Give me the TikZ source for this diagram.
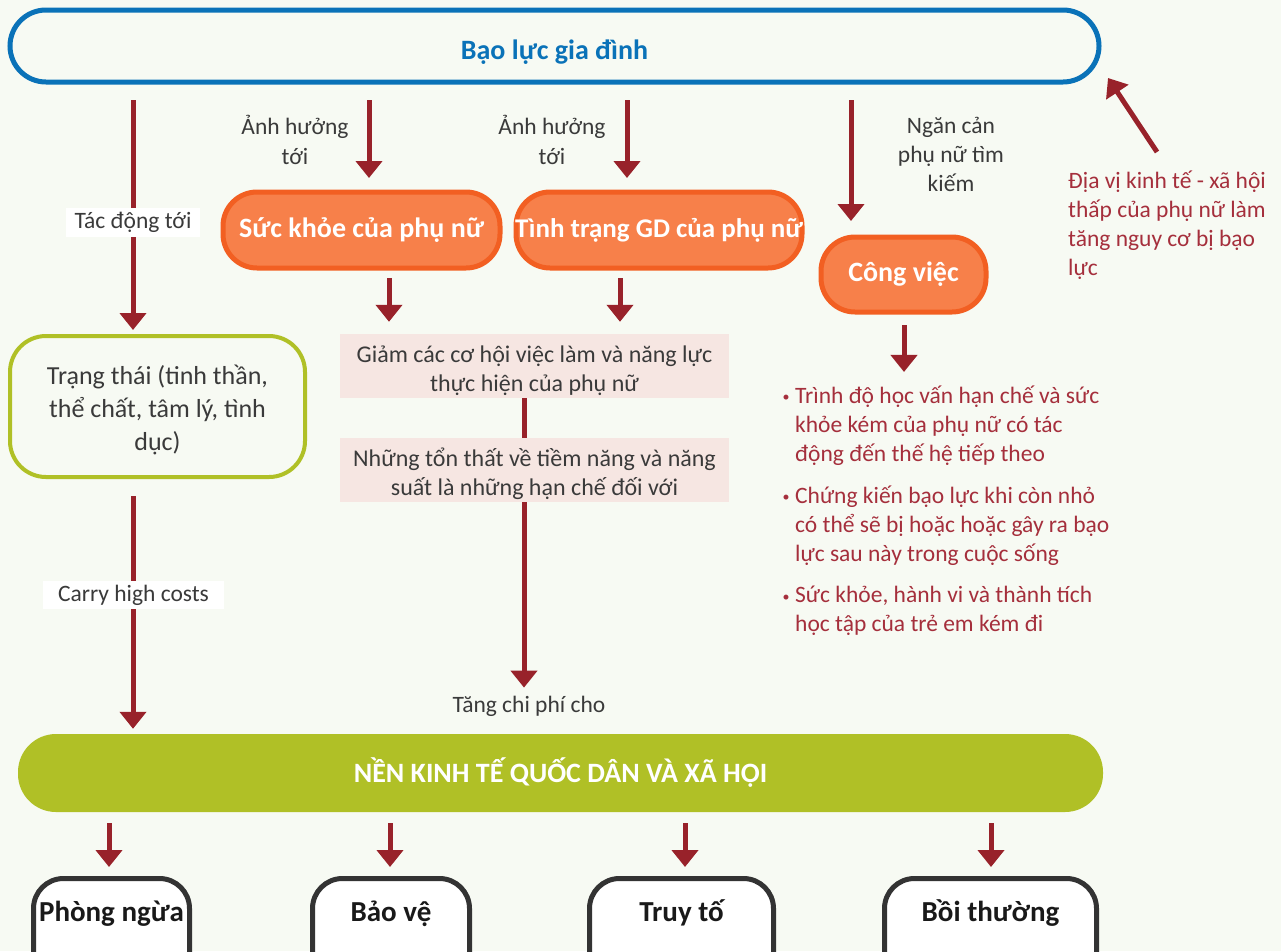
\documentclass[tikz,border=0pt]{standalone}
\usepackage{fontspec}
\setmainfont{Carlito}
\usetikzlibrary{arrows.meta}
\definecolor{bg}{HTML}{F7FAF3}
\definecolor{vblue}{HTML}{0A72B8}
\definecolor{arr}{HTML}{98222A}
\definecolor{ofill}{HTML}{F7804A}
\definecolor{oline}{HTML}{F25F22}
\definecolor{lgreen}{HTML}{B0C026}
\definecolor{pinkbg}{HTML}{F6E6E2}
\definecolor{rtext}{HTML}{A52F3C}
\definecolor{gtext}{HTML}{3A3A3A}
\definecolor{dk}{HTML}{333333}
\begin{document}
\begin{tikzpicture}[x=1pt,y=-1pt,
  arrowline/.style={draw=arr, line width=5pt, -{Triangle[width=26pt,length=17pt]}},
  plainline/.style={draw=arr, line width=5pt},
  lbl/.style={font=\fontsize{23.5}{30}\selectfont, text=gtext, align=center, inner sep=0pt},
  whitelbl/.style={lbl, fill=white},
  obox/.style={draw=oline, fill=ofill, line width=5pt, rounded corners=34pt, text=white,
    font=\bfseries\fontsize{28}{30}\selectfont, inner sep=0pt},
  pinkbox/.style={fill=pinkbg, minimum width=389pt, minimum height=64pt, inner sep=0pt},
  pinktext/.style={align=center, font=\fontsize{24}{29}\selectfont, text=gtext, inner sep=0pt},
  redtxt/.style={font=\fontsize{23.5}{29}\selectfont, text=rtext, align=left, inner sep=0pt},
  dotnode/.style={text=rtext, font=\fontsize{14}{14}\selectfont, inner sep=0pt},
  endbox/.style={draw=dk, fill=white, line width=5pt, rounded corners=30pt,
    font=\bfseries\fontsize{29}{30}\selectfont, text=black!90, inner sep=0pt,
    text height=43pt, text depth=69pt, anchor=north}
]
\useasboundingbox (0,0) rectangle (1281,951);
\clip (0,0) rectangle (1281,951);
\fill[bg] (0,0) rectangle (1281,951);

% top
\node[draw=vblue, line width=5pt, rounded corners=36pt, minimum width=1089pt, minimum height=72pt,
  font=\bfseries\fontsize{28}{30}\selectfont, text=vblue, inner sep=0pt] (top) at (554.5,46) {\raisebox{-13pt}[0pt][0pt]{Bạo lực gia đình}};

% orange boxes
\node[obox, minimum width=277pt, minimum height=76pt] (health) at (361.5,230) {\makebox[0pt]{Sức khỏe của phụ nữ}};
\node[obox, minimum width=286pt, minimum height=76pt, font=\bfseries\fontsize{27}{30}\selectfont] (gd) at (659,230) {\makebox[0pt]{Tình trạng GD của phụ nữ}};
\node[obox, minimum width=165pt, minimum height=75pt] (job) at (903.5,274.5) {\makebox[0pt]{Công việc}};

% state box
\node[draw=lgreen, line width=4pt, rounded corners=36pt, minimum width=295pt, minimum height=141pt] (state) at (157.5,406.5) {};
\node[lbl, font=\fontsize{26}{33}\selectfont] (statet) at (157.5,410) {Trạng thái (tinh thần,\\ thể chất, tâm lý, tình\\ dục)};

% pink boxes
\node[pinkbox] (p1) at (534.5,366) {};
\node[pinkbox] (p2) at (534.5,470) {};
\node[pinktext] (p1t) at (534.5,371) {Giảm các cơ hội việc làm và năng lực\\ thực hiện của phụ nữ};
\node[pinktext] (p2t) at (534.5,473.5) {Những tổn thất về tiềm năng và năng\\ suất là những hạn chế đối với};

% labels
\node[lbl] (l2) at (295,140) {Ảnh hưởng\\ tới};
\node[lbl] (l3) at (552,140) {Ảnh hưởng\\ tới};
\node[lbl, font=\fontsize{23.5}{29}\selectfont] (l4) at (951,154) {Ngăn cản\\ phụ nữ tìm\\ kiếm};
\node[lbl] (tang) at (529,706) {Tăng chi phí cho};

% red text
\node[redtxt, anchor=west] (dia) at (1068,225) {Địa vị kinh tế - xã hội\\ thấp của phụ nữ làm\\ tăng nguy cơ bị bạo\\ lực};
\node[redtxt, anchor=west] (b1) at (795,426) {Trình độ học vấn hạn chế và sức\\ khỏe kém của phụ nữ có tác\\ động đến thế hệ tiếp theo};
\node[redtxt, anchor=west] (b2) at (795,526) {Chứng kiến bạo lực khi còn nhỏ\\ có thể sẽ bị hoặc hoặc gây ra bạo\\ lực sau này trong cuộc sống};
\node[redtxt, anchor=west] (b3) at (795,611) {Sức khỏe, hành vi và thành tích\\ học tập của trẻ em kém đi};
\node[dotnode] (d1) at (786,398) {•};
\node[dotnode] (d2) at (786,498) {•};
\node[dotnode] (d3) at (786,598) {•};

% economy
\node[fill=lgreen, rounded corners=38pt, minimum width=1085pt, minimum height=78pt, text=white,
  font=\bfseries\fontsize{28}{28}\selectfont, inner sep=0pt] (econ) at (560.5,773) {NỀN KINH TẾ QUỐC DÂN VÀ XÃ HỘI};

% end boxes
\node[endbox, minimum width=156pt] (e1) at (111.5,876) {\makebox[0pt]{Phòng ngừa}};
\node[endbox, minimum width=157pt] (e2) at (391,876) {\makebox[0pt]{Bảo vệ}};
\node[endbox, minimum width=184pt] (e3) at (681.5,876) {\makebox[0pt]{Truy tố}};
\node[endbox, minimum width=212pt] (e4) at (990.5,876) {\makebox[0pt]{Bồi thường}};

% coordinates
\coordinate (s1) at (133,100);
\coordinate (s2) at (369,100);
\coordinate (s3) at (627,100);
\coordinate (s4) at (851,100);
\coordinate (h1) at (389,0);
\coordinate (g1) at (620,0);
\coordinate (j1) at (904,0);
\coordinate (cx) at (524,0);
\coordinate (dtail) at (1157,152);
\coordinate (dtip) at (1108,78);
\coordinate (k1) at (109,0);
\coordinate (k2) at (390,0);
\coordinate (k3) at (685,0);
\coordinate (k4) at (991,0);

% arrows
\draw[arrowline, shorten >=4pt] (s1) -- (s1 |- state.north);
\draw[arrowline, shorten >=11.5pt] (s2) -- (s2 |- health.north);
\draw[arrowline, shorten >=11.5pt] (s3) -- (s3 |- gd.north);
\draw[arrowline, shorten >=13.5pt] (s4) -- (s4 |- job.north);
\draw[arrowline] (dtail) -- (dtip);
\draw[arrowline, shorten <=7.5pt, shorten >=12pt] (h1 |- health.south) -- (h1 |- p1.north);
\draw[arrowline, shorten <=7.5pt, shorten >=12pt] (g1 |- gd.south) -- (g1 |- p1.north);
\draw[arrowline, shorten <=10.5pt, shorten >=14pt] (j1 |- job.south) -- (j1 |- b1.north);
\draw[arrowline, shorten <=17pt, shorten >=5pt] (s1 |- state.south) -- (s1 |- econ.north);
\draw[plainline] (cx |- p1.south) -- (cx |- p2.north);
\draw[arrowline, shorten >=8pt] (cx |- p2.south) -- (cx |- tang.north);
\draw[arrowline, shorten <=11pt, shorten >=9pt] (k1 |- econ.south) -- (k1 |- e1.north);
\draw[arrowline, shorten <=11pt, shorten >=9pt] (k2 |- econ.south) -- (k2 |- e2.north);
\draw[arrowline, shorten <=11pt, shorten >=9pt] (k3 |- econ.south) -- (k3 |- e3.north);
\draw[arrowline, shorten <=11pt, shorten >=9pt] (k4 |- econ.south) -- (k4 |- e4.north);

% white labels on arrows
\node[whitelbl, minimum width=134pt, minimum height=29pt] (l1) at (133,222) {Tác động tới};
\node[whitelbl, minimum width=181pt, minimum height=28pt] (l5) at (133.5,595) {Carry high costs};
\end{tikzpicture}
\end{document}
